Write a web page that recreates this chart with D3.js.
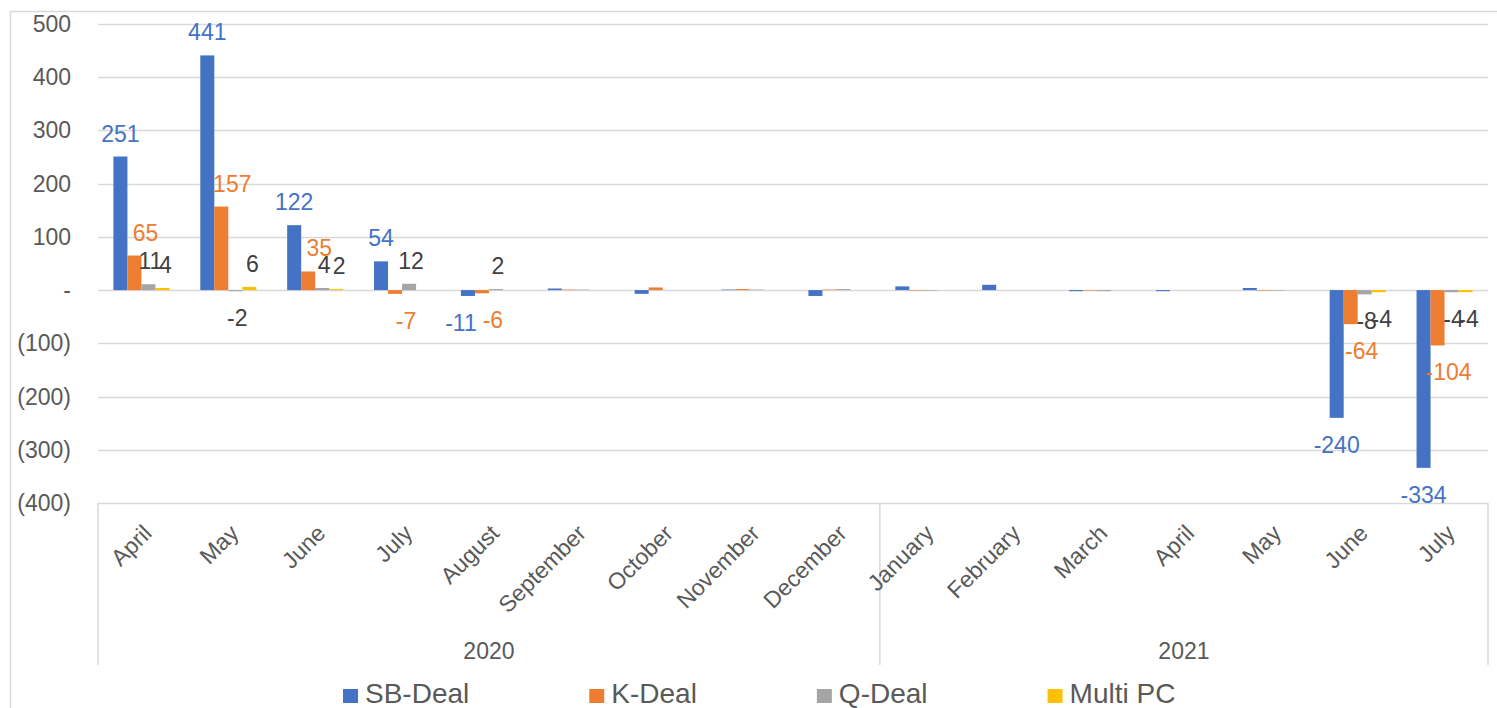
<!DOCTYPE html>
<html><head><meta charset="utf-8">
<script src="https://cdn.jsdelivr.net/npm/d3@7"></script>
<style>
body{margin:0;background:#fff}
svg{display:block}
text{font-family:"Liberation Sans",Arial,sans-serif}
</style>
</head><body>
<svg id="c" width="1497" height="708"></svg>
<script>
// ---- data ----
const months = ["April","May","June","July","August","September","October","November","December","January","February","March","April","May","June","July"];
const yearNames = ["2020","2021"];
const yearCounts = [9,7];
const seriesNames = ["SB-Deal","K-Deal","Q-Deal","Multi PC"];
const sbDeal = [251,441,122,54,-11,3,-7,1,-11,7,10,-2,-2,4,-240,-334];
const kDeal  = [65,157,35,-7,-6,1,5,2,1,-1,0,-1,0,-1,-64,-104];
const qDeal  = [11,-2,4,12,2,1,0,1,2,-1,0,-2,0,-1,-8,-4];
const multiPC= [4,6,2,0,0,0,0,0,0,0,0,0,0,0,-4,-4];
const showLabel = [1,1,1,1,1,0,0,0,0,0,0,0,0,0,1,1];
const yTicks = [500,400,300,200,100,0,-100,-200,-300,-400];

// ---- style ----
const colors = ["#4472C4","#ED7D31","#A5A5A5","#FFC000"];
const labelColors = ["#4472C4","#ED7D31","#404040","#404040"];
const labelDx = [0,11,2,3];
const series = [sbDeal,kDeal,qDeal,multiPC];

const svg = d3.select("#c");
const X0 = 98, X1 = 1488, Y0 = 24, Y1 = 503;

// outer border
svg.append("rect").attr("x",10.5).attr("y",11.5).attr("width",1500).attr("height",720)
  .attr("fill","none").attr("stroke","#D9D9D9").attr("stroke-width",1.5);

const y = d3.scaleLinear().domain([-400,500]).range([Y1,Y0]);
const x = d3.scaleBand().domain(d3.range(months.length)).range([X0,X1])
  .paddingInner(0.355).paddingOuter(0.1775);
const xs = d3.scaleBand().domain(d3.range(series.length)).range([0,x.bandwidth()]);

// gridlines
svg.append("g").selectAll("line").data(yTicks).join("line")
  .attr("x1",X0).attr("x2",X1).attr("y1",d=>Math.round(y(d))+0.5).attr("y2",d=>Math.round(y(d))+0.5)
  .attr("stroke","#D9D9D9").attr("stroke-width",1.5);

// y labels
const fmt = v => v===0 ? "-" : (v<0 ? "("+Math.abs(v)+")" : String(v));
svg.append("g").selectAll("text").data(yTicks).join("text")
  .attr("x",71).attr("y",d=>y(d)+8).attr("text-anchor","end")
  .attr("font-size",23).attr("fill","#595959").text(fmt);

// bars
series.forEach((arr,si)=>{
  svg.append("g").selectAll("rect").data(arr).join("rect")
    .attr("x",(d,i)=>x(i)+xs(si))
    .attr("width",xs.bandwidth())
    .attr("y",d=>y(Math.max(0,d)))
    .attr("height",d=>Math.abs(y(d)-y(0)))
    .attr("fill",colors[si]);
});

// data labels
const labelNodes = [];
series.forEach((arr,si)=>{
  const pts = arr.map((v,i)=>({v,i,si})).filter(d=>showLabel[d.i] && d.v!==0);
  svg.append("g").selectAll("text").data(pts).join("text")
    .attr("x",d=>x(d.i)+xs(si)+xs.bandwidth()/2+labelDx[si])
    .attr("y",d=>d.v>=0 ? y(d.v)-15 : y(d.v)+35)
    .attr("text-anchor","middle").attr("font-size",23).attr("fill",labelColors[si])
    .text(d=>d.v)
    .each(function(d){ labelNodes.push({node:this, d}); });
});
// nudge apart overlapping labels of different colours within a month
d3.groups(labelNodes, o=>o.d.i).forEach(([m, list])=>{
  list.sort((a,b)=>a.d.si-b.d.si);
  for (let k=list.length-1; k>0; k--) {
    const a = list[k-1], b = list[k];
    if (labelColors[a.d.si] === labelColors[b.d.si]) continue;
    const ya = +a.node.getAttribute("y"), yb = +b.node.getAttribute("y");
    if (Math.abs(ya-yb) >= 16) continue;
    const ba = a.node.getBBox(), bb = b.node.getBBox();
    const over = ba.x+ba.width + 6 - bb.x;
    if (over > 0) a.node.setAttribute("x", +a.node.getAttribute("x") - over);
  }
});

// category axis: separators
const bounds = [0];
yearCounts.forEach((c,k)=>bounds.push(bounds[k]+c));
const step = x.step();
svg.append("g").selectAll("line").data(bounds).join("line")
  .attr("x1",d=>X0+d*step).attr("x2",d=>X0+d*step).attr("y1",Y1).attr("y2",665)
  .attr("stroke","#D9D9D9").attr("stroke-width",1.5);

// month labels
svg.append("g").selectAll("text").data(months).join("text")
  .attr("transform",(d,i)=>`translate(${x(i)+x.bandwidth()/2+6},${Y1+26}) rotate(-45)`)
  .attr("text-anchor","end").attr("font-size",23).attr("fill","#595959")
  .attr("dy","0.35em").text(d=>d);

// year labels
svg.append("g").selectAll("text").data(yearNames).join("text")
  .attr("x",(d,k)=>X0+(bounds[k]+bounds[k+1])/2*step)
  .attr("y",659).attr("text-anchor","middle").attr("font-size",23).attr("fill","#595959")
  .text(d=>d);

// legend
const lg = svg.append("g");
const items = lg.selectAll("g").data(seriesNames).join("g");
items.append("rect").attr("width",15).attr("height",14).attr("y",689)
  .attr("fill",(d,i)=>colors[i]);
items.append("text").attr("x",22).attr("y",703).attr("font-size",28).attr("fill","#595959").text(d=>d);
let cx = 0; const pos = [];
items.each(function(d,i){ const w = this.getBBox().width; pos.push(cx); cx += w + 120; });
items.attr("transform",(d,i)=>`translate(${343+pos[i]},0)`);
</script>
</body></html>
